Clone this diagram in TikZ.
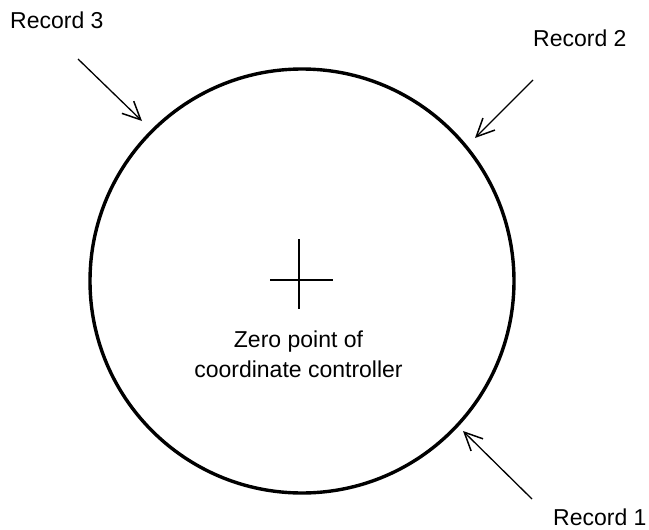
\documentclass[tikz,border=0pt]{standalone}
\usepackage{fontspec}
\setmainfont{Liberation Sans}
\usetikzlibrary{arrows.meta}
\begin{document}
\begin{tikzpicture}[x=1pt,y=-1pt,
  lbl/.style={inner sep=0pt,font=\fontsize{23}{30}\selectfont},
  recarrow/.style={line width=1.3pt,-{Straight Barb[length=18pt,width=17pt,line width=1.5pt]}},
  crossline/.style={line width=1.6pt}]
\useasboundingbox (0,0) rectangle (649,530);
\fill[white] (0,0) rectangle (649,530);
% circle
\node[circle,draw,line width=3.4pt,minimum size=424pt,inner sep=0pt] (circ) at (302,281) {};
% cross
\coordinate (hL) at (270,280);
\coordinate (hR) at (333,280);
\coordinate (vT) at (299,239);
\coordinate (vB) at (299,309);
\draw[crossline] (hL) -- (hR);
\draw[crossline] (vT) -- (vB);
% center label
\node[lbl,align=center,anchor=north] (zero) at (298.5,331) {Zero point of\\coordinate controller};
% record labels
\node[lbl,anchor=base west] (r3) at (10,28.3) {Record 3};
\node[lbl,anchor=base west] (r2) at (533,46.7) {Record 2};
\node[lbl,anchor=base west] (r1) at (553,525.5) {Record 1};
% arrows
\coordinate (a3s) at (78,59);
\coordinate (a3e) at (142,121);
\coordinate (a2s) at (533,80);
\coordinate (a2e) at (475,138);
\coordinate (a1s) at (532,499);
\coordinate (a1e) at (463,431);
\draw[recarrow] (a3s) -- (a3e);
\draw[recarrow] (a2s) -- (a2e);
\draw[recarrow] (a1s) -- (a1e);
\end{tikzpicture}
\end{document}
